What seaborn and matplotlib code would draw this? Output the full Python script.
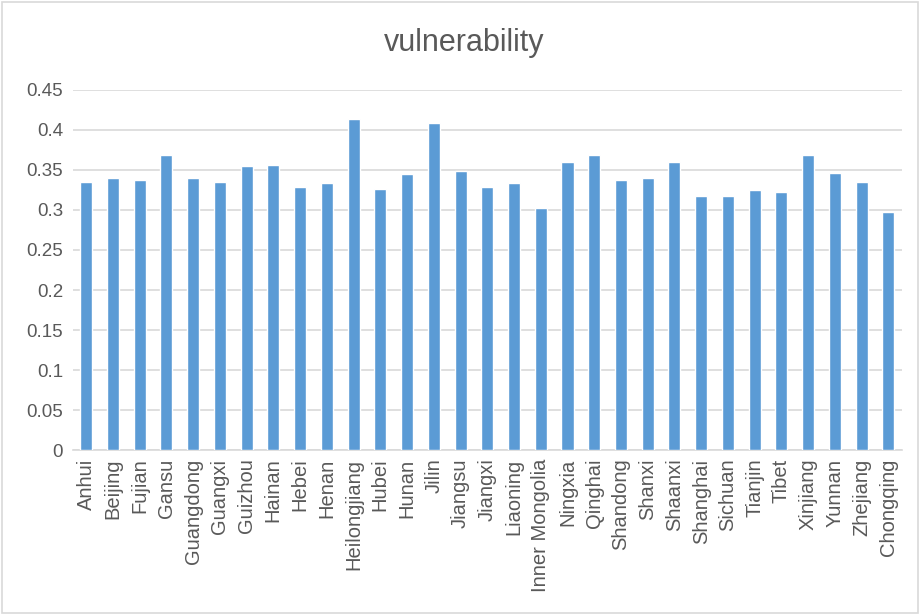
import matplotlib
matplotlib.use("Agg")
import matplotlib.pyplot as plt
import seaborn as sns
import pandas as pd
from matplotlib.patches import Rectangle

provinces = ["Anhui", "Beijing", "Fujian", "Gansu", "Guangdong", "Guangxi", "Guizhou",
             "Hainan", "Hebei", "Henan", "Heilongjiang", "Hubei", "Hunan", "Jilin",
             "Jiangsu", "Jiangxi", "Liaoning", "Inner Mongolia", "Ningxia", "Qinghai",
             "Shandong", "Shanxi", "Shaanxi", "Shanghai", "Sichuan", "Tianjin", "Tibet",
             "Xinjiang", "Yunnan", "Zhejiang", "Chongqing"]
vulnerability = [0.335, 0.340, 0.337, 0.368, 0.340, 0.335, 0.355,
                 0.356, 0.328, 0.333, 0.413, 0.326, 0.345, 0.409,
                 0.348, 0.328, 0.334, 0.303, 0.360, 0.369,
                 0.337, 0.340, 0.360, 0.317, 0.317, 0.325, 0.323,
                 0.369, 0.346, 0.335, 0.298]
y_ticks = [0, 0.05, 0.1, 0.15, 0.2, 0.25, 0.3, 0.35, 0.4, 0.45]
y_tick_labels = ["0", "0.05", "0.1", "0.15", "0.2", "0.25", "0.3", "0.35", "0.4", "0.45"]

df = pd.DataFrame({"province": provinces, "vulnerability": vulnerability})

sns.set_theme(style="white")
plt.rcParams["font.family"] = ["Liberation Sans", "DejaVu Sans"]

text_color = "#595959"
grid_color = "#d9d9d9"
bar_color = "#5b9bd5"

fig = plt.figure(figsize=(9.22, 6.15), dpi=100)
ax = fig.add_axes([0.079, 0.268, 0.899, 0.586])

sns.barplot(data=df, x="province", y="vulnerability", color=bar_color,
            saturation=1, width=0.45, ax=ax, zorder=3)

ax.set_ylim(0, 0.45)
ax.set_xlim(-0.5, len(provinces) - 0.5)
ax.set_yticks(y_ticks)
ax.set_yticklabels(y_tick_labels)
ax.yaxis.grid(True, color=grid_color, linewidth=1.2, zorder=0)
ax.set_axisbelow(True)
for side in ["left", "right", "top"]:
    ax.spines[side].set_visible(False)
ax.spines["bottom"].set_color(grid_color)
ax.spines["bottom"].set_linewidth(1.2)
ax.tick_params(axis="x", length=0, colors=text_color, labelsize=14.5, pad=6)
ax.tick_params(axis="y", length=0, colors=text_color, labelsize=13.5, pad=7)
plt.setp(ax.get_xticklabels(), rotation=90)
ax.set_xlabel("")
ax.set_ylabel("")

fig.text(0.503, 0.93, "vulnerability", ha="center", va="center",
         fontsize=22, color=text_color)

fig.patches.append(Rectangle((0.002, 0.004), 0.994, 0.992, transform=fig.transFigure,
                             fill=False, edgecolor="#d9d9d9", linewidth=1.2))

fig.savefig("out.png", dpi=100)
